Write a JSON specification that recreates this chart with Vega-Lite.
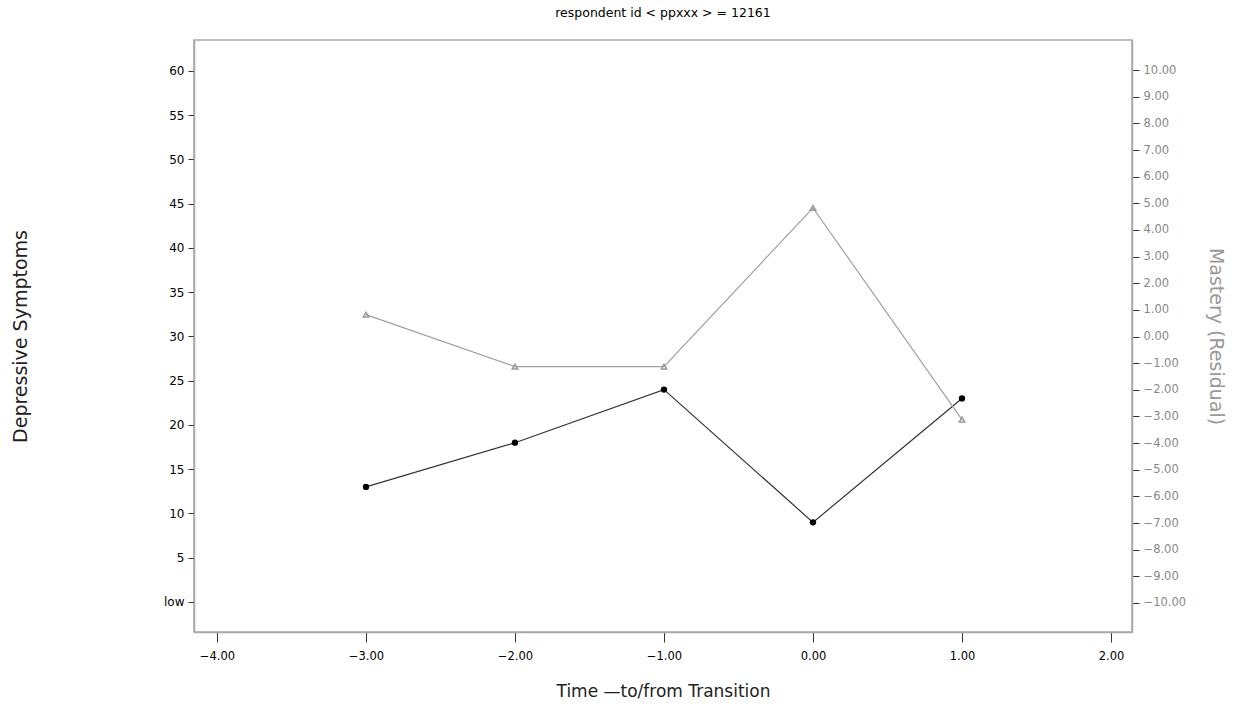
{
  "$schema": "https://vega.github.io/schema/vega-lite/v6.json",
  "width": 938,
  "height": 592,
  "autosize": {"type": "none"},
  "padding": {"left": 194, "top": 40, "right": 103, "bottom": 74},
  "background": "white",
  "config": {
    "font": "DejaVu Sans",
    "view": {"stroke": "#a8a8a8", "strokeWidth": 1.5},
    "axis": {"grid": false, "labelFont": "DejaVu Sans", "titleFont": "DejaVu Sans", "titleFontWeight": "normal"}
  },
  "title": {"text": "respondent id < ppxxx > = 12161", "font": "DejaVu Sans", "fontSize": 12.5, "fontWeight": "normal", "color": "#000", "offset": 21, "anchor": "middle"},
  "data": {"values": [
    {"time": -3, "depressive": 13, "mastery": 0.82},
    {"time": -2, "depressive": 18, "mastery": -1.13},
    {"time": -1, "depressive": 24, "mastery": -1.13},
    {"time": 0, "depressive": 9, "mastery": 4.83},
    {"time": 1, "depressive": 23, "mastery": -3.12}
  ]},
  "encoding": {
    "x": {"field": "time", "type": "quantitative",
      "scale": {"domain": [-4.154, 2.141], "nice": false, "zero": false},
      "axis": {"title": "Time \u2014to/from Transition", "values": [-4, -3, -2, -1, 0, 1, 2],
        "labelExpr": "datum.value < 0 ? '\u2212' + format(-datum.value, '.2f') : format(datum.value, '.2f')",
        "labelFontSize": 11.5, "labelColor": "#000", "tickSize": 10, "tickColor": "#333", "domainColor": "#a8a8a8", "domainWidth": 1.5,
        "labelPadding": 8, "titleFontSize": 17, "titleColor": "#222", "titlePadding": 22}}
  },
  "layer": [
    {
      "layer": [
        {"mark": {"type": "line", "color": "#333", "strokeWidth": 1.2}},
        {"mark": {"type": "point", "shape": "circle", "filled": true, "color": "#000", "size": 40, "opacity": 1}}
      ],
      "encoding": {
        "y": {"field": "depressive", "type": "quantitative",
          "scale": {"domain": [-3.39, 63.5], "nice": false, "zero": false},
          "axis": {"orient": "left", "title": "Depressive Symptoms", "values": [0, 5, 10, 15, 20, 25, 30, 35, 40, 45, 50, 55, 60],
            "labelExpr": "datum.value == 0 ? 'low' : datum.label",
            "labelFontSize": 12, "labelColor": "#000", "tickSize": 6, "tickColor": "#333", "domainColor": "#a8a8a8", "domainWidth": 1.5,
            "labelPadding": 4, "titleFontSize": 19, "titleColor": "#222", "titlePadding": 133}}
      }
    },
    {
      "layer": [
        {"mark": {"type": "line", "color": "#a0a0a0", "strokeWidth": 1.2}},
        {"mark": {"type": "point", "shape": "triangle-up", "filled": false, "color": "#999", "size": 30, "strokeWidth": 1.5, "opacity": 1}}
      ],
      "encoding": {
        "y": {"field": "mastery", "type": "quantitative",
          "scale": {"domain": [-11.09, 11.13], "nice": false, "zero": false},
          "axis": {"orient": "right", "title": "Mastery (Residual)", "values": [-10, -9, -8, -7, -6, -5, -4, -3, -2, -1, 0, 1, 2, 3, 4, 5, 6, 7, 8, 9, 10],
            "labelExpr": "datum.value < 0 ? '\u2212' + format(-datum.value, '.2f') : format(datum.value, '.2f')",
            "labelFontSize": 11.5, "labelColor": "#888", "tickSize": 7, "tickColor": "#333", "domainColor": "#a8a8a8", "domainWidth": 1.5,
            "labelPadding": 4, "titleFontSize": 19, "titleColor": "#999", "titleAngle": 90, "titlePadding": 20}}
      }
    }
  ],
  "resolve": {"scale": {"y": "independent"}}
}
